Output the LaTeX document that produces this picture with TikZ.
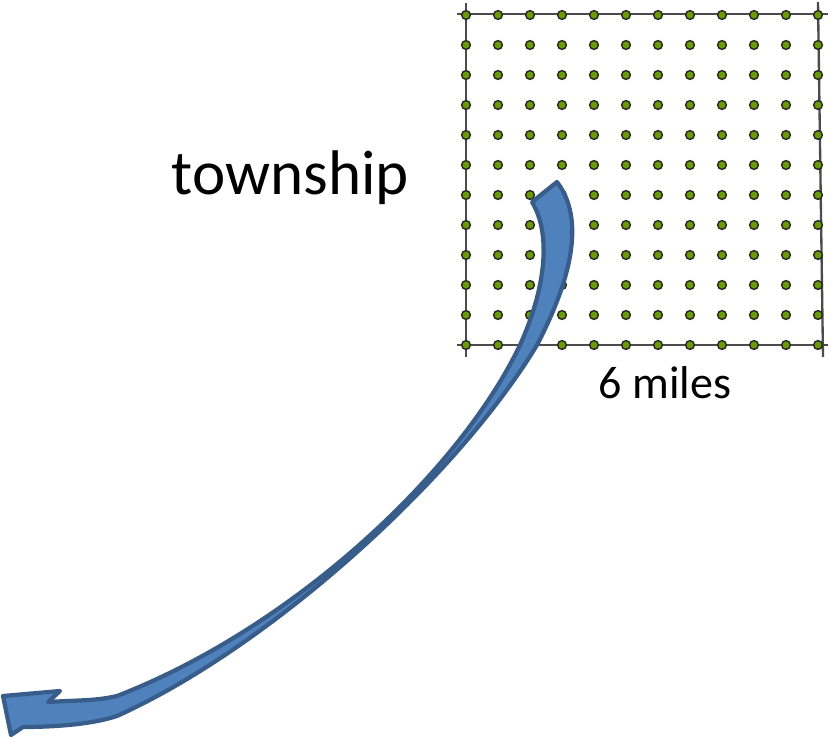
\documentclass[tikz,border=0pt]{standalone}
\usepackage{fontspec}
\setmainfont{Carlito}
\usetikzlibrary{positioning}
\definecolor{arrowfill}{HTML}{4F81BD}
\definecolor{arrowline}{HTML}{385D8A}
\definecolor{dotgreen}{HTML}{6A9A08}

\begin{document}
\begin{tikzpicture}[x=0.03cm,y=-0.03cm,
    gridline/.style={draw=black!70, line width=2pt},
    plotdot/.style={circle, fill=dotgreen, draw=black!85, line width=1.2pt, inner sep=0pt, minimum size=7.5pt}]
    \useasboundingbox (0,0) rectangle (830,739);
    % township square
    \draw[gridline] (457,14) -- (828,14);
    \draw[gridline] (457,345) -- (828,345);
    \draw[gridline] (466,3) -- (466,357);
    \draw[gridline] (818,2) -- (823,357);
    \foreach \i in {0,...,11}
        \foreach \j in {0,...,11}
            \node[plotdot] at (466+32*\i,15+30*\j) {};
    % labels
    \node[anchor=base, font=\fontsize{53.8}{60}\selectfont] (township) at (290.5,195) {township};
    \node[anchor=base, font=\fontsize{39.3}{44}\selectfont] (miles) at (665,399) {6 miles};
    % curved arrow
    \filldraw[fill=arrowfill, draw=arrowline, line width=3.6pt, line join=round]
        (532,202) -- (557,182)
        .. controls (590,225) and (563,295) .. (537,345)
        .. controls (458,476) and (272,646) .. (117,716)
        .. controls (90,725) and (50,727) .. (23,727)
        -- (11,735) -- (3,696) -- (60,691) -- (48,702)
        .. controls (80,700) and (95,701) .. (117,696)
        .. controls (295,627) and (460,471) .. (520,345)
        .. controls (545,290) and (552,235) .. (532,202)
        -- cycle;
\end{tikzpicture}
\end{document}
